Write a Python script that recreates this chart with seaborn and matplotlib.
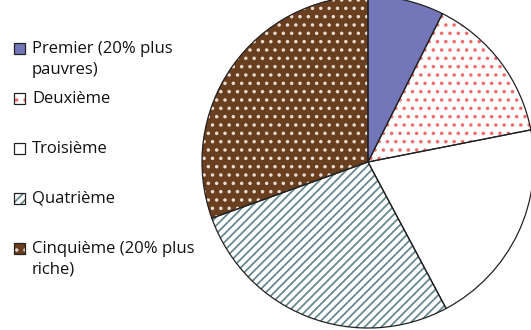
import matplotlib
matplotlib.use('Agg')
import matplotlib.pyplot as plt
from matplotlib.patches import Rectangle
import seaborn as sns

sns.set_style('white')
plt.rcParams['font.family'] = ['Open Sans', 'DejaVu Sans']
plt.rcParams['hatch.linewidth'] = 1.3

categories = ['Premier (20% plus\npauvres)', 'Deuxième', 'Troisième', 'Quatrième',
              'Cinquième (20% plus\nriche)']
shares = [7.4, 14.5, 20.3, 27.3, 30.5]

faces = ['#7476BA', 'white', 'white', 'white', '#6A3F20']
hatches = [None, '..', None, '////', '..']
hatch_cols = ['#7476BA', '#F46A6A', 'white', '#668A8F', '#E8DCD0']

W, H = 531, 330
fig = plt.figure(figsize=(W / 100, H / 100), dpi=100)

# pie centred at (368, 162) px, radius 166 px
cx, cy, r = 368, 162, 166
ax = fig.add_axes([(cx - r) / W, 1 - (cy + r) / H, 2 * r / W, 2 * r / H])

# filled wedges with hatch (hatch colour follows edgecolor)
wedges, _ = ax.pie(shares, startangle=90, counterclock=False, radius=1,
                   colors=faces, wedgeprops=dict(linewidth=0))
for w, h, hc in zip(wedges, hatches, hatch_cols):
    if h:
        w.set_hatch(h)
        w.set_edgecolor(hc)

# black outlines on top
outl, _ = ax.pie(shares, startangle=90, counterclock=False, radius=1,
                 wedgeprops=dict(fill=False, edgecolor='#222222', linewidth=0.9))
ax.set_xlim(-1, 1)
ax.set_ylim(-1, 1)
ax.set_aspect('equal')
ax.axis('off')

# hand-made legend on the left
for i, lab in enumerate(categories):
    yc = 48.5 + i * 50
    rect = Rectangle((14 / W, 1 - (yc + 5.5) / H), 11 / W, 11 / H,
                     transform=fig.transFigure, facecolor=faces[i],
                     edgecolor=hatch_cols[i] if hatches[i] else '#222222',
                     hatch=hatches[i], linewidth=0)
    fig.patches.append(rect)
    fig.patches.append(Rectangle((14 / W, 1 - (yc + 5.5) / H), 11 / W, 11 / H,
                                 transform=fig.transFigure, fill=False,
                                 edgecolor='#222222', linewidth=0.9))
    # va='baseline' pins the last line, so shift multi-line labels down
    base = yc + 4.2 + lab.count('\n') * 20.8
    fig.text(32 / W, 1 - base / H, lab, fontsize=12, va='baseline', ha='left',
             color='#111111', linespacing=1.35)

fig.savefig('out.png', dpi=100)
